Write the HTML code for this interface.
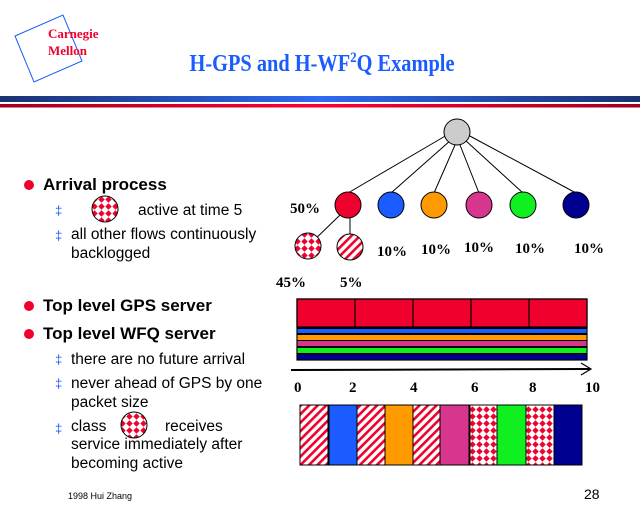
<!DOCTYPE html>
<html><head><meta charset="utf-8"><style>
html,body{margin:0;padding:0;background:#fff;}
svg{display:block;}
.s{font-family:"Liberation Serif",serif;font-weight:bold;}
.a{font-family:"Liberation Sans",sans-serif;}
</style></head><body>
<svg width="640" height="512" viewBox="0 0 640 512" xmlns="http://www.w3.org/2000/svg">
<defs>
<pattern id="dots" width="7" height="7" patternUnits="userSpaceOnUse" x="0" y="0">
<rect width="7" height="7" fill="#fff"/>
<polygon points="3.5,0.3 6.7,3.5 3.5,6.7 0.3,3.5" fill="#f0002c"/>
</pattern>
<pattern id="str" width="6" height="6" patternUnits="userSpaceOnUse" patternTransform="rotate(45)">
<rect width="6" height="6" fill="#fff"/>
<rect width="2.6" height="6" fill="#f0002c"/>
</pattern>
<linearGradient id="bg" x1="0" x2="1">
<stop offset="0" stop-color="#1a3270"/><stop offset="0.5" stop-color="#2f6af0"/><stop offset="1" stop-color="#1a3270"/>
</linearGradient>
<linearGradient id="rg" x1="0" x2="1">
<stop offset="0" stop-color="#a00020"/><stop offset="0.5" stop-color="#ff0030"/><stop offset="1" stop-color="#a00020"/>
</linearGradient>
</defs>
<polygon points="15,36 63,15 82,61 34,82" fill="none" stroke="#1a5cff" stroke-width="1"/>
<text x="48" y="38" class="s" font-size="13" fill="#f0002c">Carnegie</text>
<text x="48" y="55" class="s" font-size="13" fill="#f0002c">Mellon</text>
<text x="322" y="71" class="s" font-size="24" fill="#1a5cff" text-anchor="middle" textLength="265" lengthAdjust="spacingAndGlyphs">H-GPS and H-WF<tspan font-size="15" dy="-9">2</tspan><tspan dy="9">Q Example</tspan></text>
<rect x="0" y="96" width="640" height="6" fill="url(#bg)"/>
<rect x="0" y="104" width="640" height="3.5" fill="url(#rg)"/>

<g stroke="#000" stroke-width="1">
<line x1="447" y1="135" x2="348" y2="193"/>
<line x1="451" y1="140" x2="391" y2="193"/>
<line x1="455" y1="145" x2="434" y2="193"/>
<line x1="460" y1="145" x2="479" y2="193"/>
<line x1="465" y1="140" x2="523" y2="193"/>
<line x1="468" y1="135" x2="576" y2="193"/>
<line x1="340" y1="215" x2="308" y2="246"/>
<line x1="350" y1="217" x2="350" y2="247"/>
<circle cx="457" cy="132" r="13" fill="#cccccc"/>
<circle cx="348" cy="205" r="13" fill="#f0002c"/>
<circle cx="391" cy="205" r="13" fill="#1a5cff"/>
<circle cx="434" cy="205" r="13" fill="#ff9a00"/>
<circle cx="479" cy="205" r="13" fill="#d8368e"/>
<circle cx="523" cy="205" r="13" fill="#10f020"/>
<circle cx="576" cy="205" r="13" fill="#000090"/>
<circle cx="308" cy="246" r="13" fill="url(#dots)"/>
<circle cx="350" cy="247" r="13" fill="url(#str)"/>
</g>
<g class="s" font-size="15" fill="#000">
<text x="290" y="213">50%</text>
<text x="377" y="256">10%</text>
<text x="421" y="254">10%</text>
<text x="464" y="252">10%</text>
<text x="515" y="253">10%</text>
<text x="574" y="253">10%</text>
<text x="276" y="287">45%</text>
<text x="340" y="287">5%</text>
</g>

<g fill="#f0002c">
<circle cx="29" cy="185" r="5"/>
<circle cx="29" cy="306" r="5"/>
<circle cx="29" cy="334" r="5"/>
</g>
<g class="a" font-weight="bold" font-size="17" fill="#000">
<text x="43" y="190">Arrival process</text>
<text x="43" y="311">Top level GPS server</text>
<text x="43" y="339">Top level WFQ server</text>
</g>
<g class="a" font-size="13" fill="#1a5cff">
<text x="55" y="215">‡</text>
<text x="55" y="240">‡</text>
<text x="55" y="364">‡</text>
<text x="55" y="388">‡</text>
<text x="55" y="433">‡</text>
</g>
<g class="a" font-size="15.5" fill="#000">
<text x="138" y="215">active at time 5</text>
<text x="71" y="239">all other flows continuously</text>
<text x="71" y="258">backlogged</text>
<text x="71" y="364">there are no future arrival</text>
<text x="71" y="388">never ahead of GPS by one</text>
<text x="71" y="407">packet size</text>
<text x="71" y="431">class</text>
<text x="165" y="431">receives</text>
<text x="71" y="449">service immediately after</text>
<text x="71" y="468">becoming active</text>
</g>
<circle cx="105" cy="209" r="13" fill="url(#dots)" stroke="#000"/>
<circle cx="134" cy="425" r="13" fill="url(#dots)" stroke="#000"/>
<text x="68" y="499" class="a" font-size="9" fill="#000">1998  Hui Zhang</text>
<text x="584" y="499" class="a" font-size="14" fill="#000">28</text>

<g stroke="#000" stroke-width="1.2">
<rect x="297" y="299" width="290" height="61" fill="#000"/>
<rect x="297" y="299" width="290" height="28" fill="#f0002c"/>
<line x1="355" y1="299" x2="355" y2="327"/>
<line x1="413" y1="299" x2="413" y2="327"/>
<line x1="471" y1="299" x2="471" y2="327"/>
<line x1="529" y1="299" x2="529" y2="327"/>
</g>
<rect x="297.5" y="329" width="289" height="4" fill="#1a5cff"/>
<rect x="297.5" y="335" width="289" height="5" fill="#ff9a00"/>
<rect x="297.5" y="341" width="289" height="5" fill="#d8368e"/>
<rect x="297.5" y="348" width="289" height="5" fill="#10f020"/>
<rect x="297.5" y="354.5" width="289" height="5" fill="#000090"/>
<line x1="291" y1="370" x2="590" y2="369" stroke="#000" stroke-width="2"/>
<polyline points="581,363 591,369 581,375" fill="none" stroke="#000" stroke-width="1.2"/>
<g class="s" font-size="15" fill="#000">
<text x="294" y="392">0</text>
<text x="349" y="392">2</text>
<text x="410" y="392">4</text>
<text x="471" y="392">6</text>
<text x="529" y="392">8</text>
<text x="585" y="392">10</text>
</g>
<g stroke="#000" stroke-width="1">
<rect x="300" y="405" width="28" height="60" fill="url(#str)"/>
<rect x="329" y="405" width="28" height="60" fill="#1a5cff"/>
<rect x="357" y="405" width="28" height="60" fill="url(#str)"/>
<rect x="385" y="405" width="28" height="60" fill="#ff9a00"/>
<rect x="413" y="405" width="27" height="60" fill="url(#str)"/>
<rect x="440" y="405" width="29" height="60" fill="#d8368e"/>
<rect x="470" y="405" width="27" height="60" fill="url(#dots)"/>
<rect x="497" y="405" width="29" height="60" fill="#10f020"/>
<rect x="526" y="405" width="28" height="60" fill="url(#dots)"/>
<rect x="554" y="405" width="28" height="60" fill="#000090"/>
</g>
</svg>
</body></html>
